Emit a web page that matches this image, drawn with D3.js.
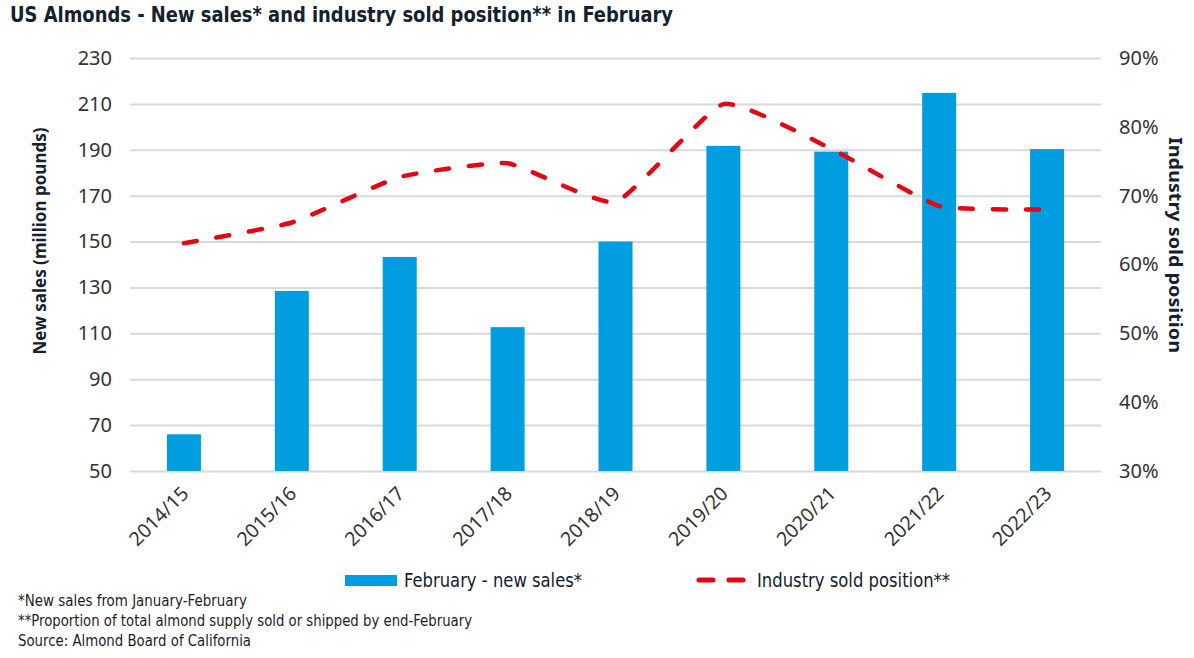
<!DOCTYPE html>
<html><head><meta charset="utf-8">
<script src="https://cdn.jsdelivr.net/npm/d3@7"></script>
<style>
html,body{margin:0;padding:0;background:#fff;}
svg{display:block;}
</style></head>
<body>
<svg id="chart" width="1194" height="658"></svg>
<script>
// ---- data ----
const categories = ["2014/15","2015/16","2016/17","2017/18","2018/19","2019/20","2020/21","2021/22","2022/23"];
const newSales = [66, 128.5, 143.3, 112.7, 150, 191.7, 189.2, 214.8, 190.3];
const soldPosition = [0.631, 0.661, 0.727, 0.747, 0.691, 0.833, 0.768, 0.685, 0.680];
const leftTicks = [50,70,90,110,130,150,170,190,210,230];
const rightTicks = [0.3,0.4,0.5,0.6,0.7,0.8,0.9];
const titleText = "US Almonds - New sales* and industry sold position** in February";
const leftTitle = "New sales (million pounds)";
const rightTitle = "Industry sold position";
const legendBar = "February - new sales*";
const legendLine = "Industry sold position**";
const footnotes = ["*New sales from January-February",
  "**Proportion of total almond supply sold or shipped by end-February",
  "Source: Almond Board of California"];

// ---- layout ----
const svg = d3.select("#chart");
const L = 130, R = 1101, T = 58, B = 471;
const blue = "#009ee0", red = "#e30613", navy = "#14222f", tickCol = "#333";
const narrow = "'Liberation Sans Narrow','DejaVu Sans Condensed',sans-serif";
const sans = "'Noto Sans','DejaVu Sans',sans-serif";

const x = d3.scaleBand().domain(categories).range([L, R]).padding(0);
const yL = d3.scaleLinear().domain([50, 230]).range([B, T]);
const yR = d3.scaleLinear().domain([0.3, 0.9]).range([B, T]);

// helper: fit a text element to a target width
function fit(sel, w) {
  sel.attr("textLength", w).attr("lengthAdjust", "spacingAndGlyphs");
  return sel;
}

// title
fit(svg.append("text").attr("x", 10).attr("y", 22)
  .attr("font-family", narrow).attr("font-weight", "bold").attr("font-size", 21)
  .attr("fill", navy).text(titleText), 663);

// left axis with gridlines
const gL = svg.append("g").attr("transform", `translate(${L},0)`)
  .call(d3.axisLeft(yL).tickValues(leftTicks).tickSize(-(R - L)).tickPadding(18).tickFormat(d3.format("d")));
gL.select(".domain").remove();
gL.selectAll(".tick line").attr("stroke", "#d9d9d9").attr("stroke-width", 2);
gL.selectAll(".tick text").attr("font-family", sans).attr("font-size", 20).attr("fill", tickCol);

// right axis
const gR = svg.append("g").attr("transform", `translate(${R},0)`)
  .call(d3.axisRight(yR).tickValues(rightTicks).tickSize(0).tickPadding(18).tickFormat(d3.format(".0%")));
gR.select(".domain").remove();
gR.selectAll(".tick text").attr("font-family", sans).attr("font-size", 20).attr("fill", tickCol);

// bars
const bw = x.bandwidth() * 0.315;
svg.append("g").selectAll("rect").data(categories).join("rect")
  .attr("x", (d) => x(d) + x.bandwidth() / 2 - bw / 2)
  .attr("y", (d, i) => yL(newSales[i]))
  .attr("width", bw)
  .attr("height", (d, i) => yL(50) - yL(newSales[i]))
  .attr("fill", blue);

// x axis
const gX = svg.append("g").attr("transform", `translate(0,${B})`)
  .call(d3.axisBottom(x).tickSize(0).tickPadding(0));
gX.select(".domain").remove();
gX.selectAll(".tick text").attr("font-family", sans).attr("font-size", 19.5).attr("fill", tickCol)
  .attr("text-anchor", "end").attr("y", 0).attr("dy", "0.35em")
  .attr("transform", "translate(1,19) rotate(-45)");

// line
const line = d3.line()
  .x((d, i) => x(categories[i]) + x.bandwidth() / 2)
  .y((d) => yR(d))
  .curve(d3.curveCardinal.tension(0.55));
svg.append("path").datum(soldPosition).attr("d", line)
  .attr("fill", "none").attr("stroke", red).attr("stroke-width", 4.5)
  .attr("stroke-dasharray", "13,20").attr("stroke-linecap", "round");

// axis titles
fit(svg.append("text").attr("transform", `translate(46,241) rotate(-90)`)
  .attr("text-anchor", "middle").attr("font-family", sans).attr("font-weight", "bold")
  .attr("font-size", 17).attr("fill", navy).text(leftTitle), 227);
fit(svg.append("text").attr("transform", `translate(1169,245) rotate(90)`)
  .attr("text-anchor", "middle").attr("font-family", sans).attr("font-weight", "bold")
  .attr("font-size", 17).attr("fill", navy).text(rightTitle), 216);

// legend
svg.append("rect").attr("x", 345).attr("y", 575).attr("width", 52).attr("height", 11).attr("fill", blue);
fit(svg.append("text").attr("x", 404).attr("y", 587).attr("font-family", narrow).attr("font-size", 19)
  .attr("fill", navy).text(legendBar), 178);
svg.append("line").attr("x1", 699).attr("x2", 743).attr("y1", 580).attr("y2", 580)
  .attr("stroke", red).attr("stroke-width", 5).attr("stroke-linecap", "round").attr("stroke-dasharray", "14,16");
fit(svg.append("text").attr("x", 757).attr("y", 587).attr("font-family", narrow).attr("font-size", 19)
  .attr("fill", navy).text(legendLine), 193);

// footnotes
const fnWidths = [229, 454, 233];
svg.append("g").selectAll("text").data(footnotes).join("text")
  .attr("x", 18).attr("y", (d, i) => 606 + i * 20)
  .attr("font-family", narrow).attr("font-size", 15.5).attr("fill", "#1e1e1e")
  .attr("textLength", (d, i) => fnWidths[i]).attr("lengthAdjust", "spacingAndGlyphs")
  .text((d) => d);
</script>
</body></html>
